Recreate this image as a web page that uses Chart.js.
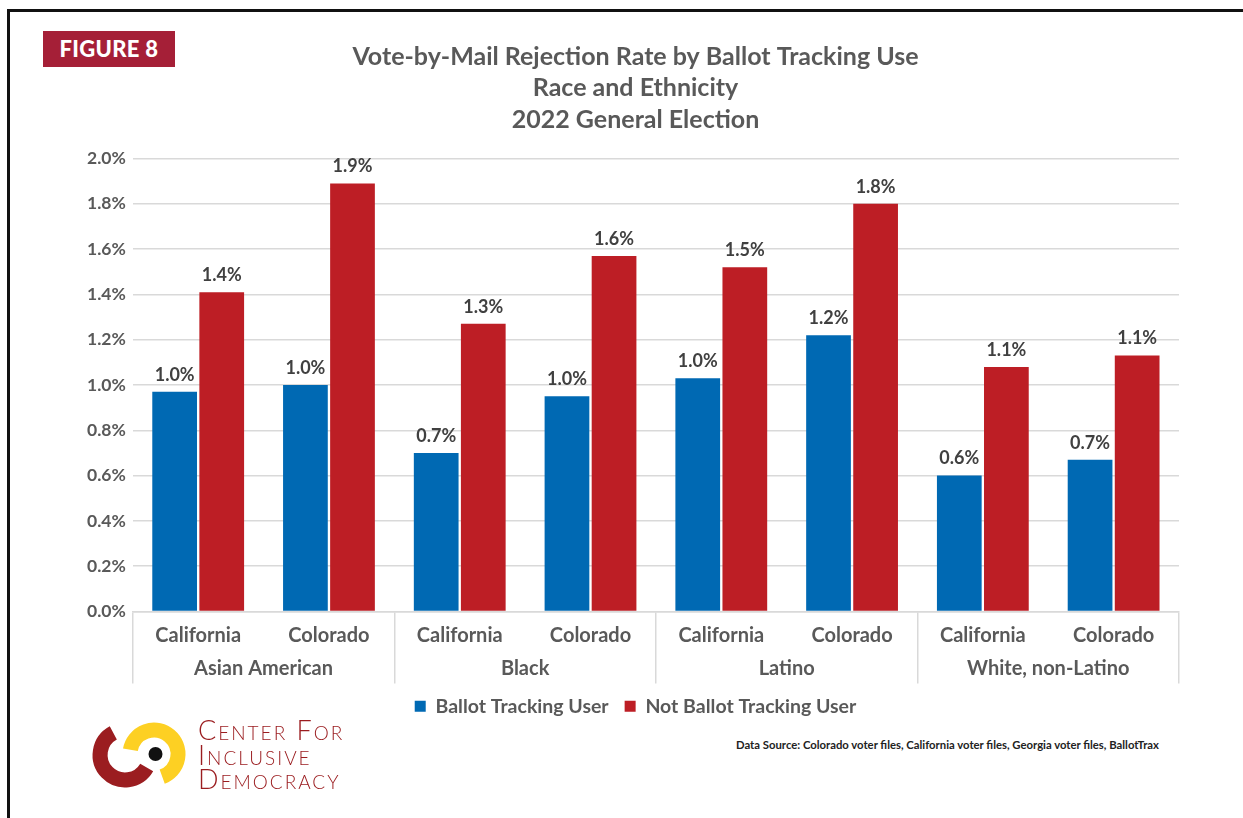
<!DOCTYPE html>
<html>
<head>
<meta charset="utf-8">
<title>Vote-by-Mail Rejection Rate by Ballot Tracking Use</title>
<script src="https://cdn.jsdelivr.net/npm/chart.js@4.4.0/dist/chart.umd.min.js"></script>
<style>
  html, body { margin: 0; padding: 0; background: #fff; }
  body { width: 1243px; height: 818px; position: relative; overflow: hidden; font-family: Lato, sans-serif; }
  .frame { position: absolute; left: 7px; top: 9px; width: 1300px; height: 900px; border-top: 3px solid #111; border-left: 3px solid #111; }
  .badge { position: absolute; left: 43px; top: 31px; width: 132px; height: 36px; background: #A51F37; color: #fff;
           font: 900 22px Lato, sans-serif; line-height: 36px; text-align: center; letter-spacing: 0.3px; }
  #chartBox { position: absolute; left: 27px; top: 30px; width: 1216px; height: 696px; }
  .logo { position: absolute; left: 80px; top: 715px; }
  .logo-text { position: absolute; left: 198px; top: 718px; color: #9B1D20; font: 300 27px Lato, sans-serif;
               font-variant: small-caps; line-height: 24.5px; letter-spacing: 2px; }
  .source { position: absolute; left: 736px; top: 738px; font: bold 11.3px Lato, sans-serif; color: #222; }
</style>
</head>
<body>
<div class="frame"></div>
<div class="badge">FIGURE 8</div>
<div id="chartBox"><canvas id="rejectionChart"></canvas></div>

<svg class="logo" width="120" height="90" viewBox="80 715 120 90">
  <!-- red hook, open to the upper right -->
  <path d="M 113.3 732.9 A 25 25 0 1 0 146.7 767.5" fill="none" stroke="#9B1D20" stroke-width="15"/>
  <!-- yellow hook, open to the lower left -->
  <path d="M 162.2 776.6 A 24 24 0 1 0 130.4 749.8" fill="none" stroke="#FDD023" stroke-width="15"/>
  <circle cx="155.5" cy="754" r="7" fill="#111"/>
</svg>
<div class="logo-text">Center For<br>Inclusive<br>Democracy</div>
<div class="source">Data Source: Colorado voter files, California voter files, Georgia voter files, BallotTrax</div>

<script>
const states = ['California', 'Colorado', 'California', 'Colorado', 'California', 'Colorado', 'California', 'Colorado'];
const groups = ['Asian American', 'Black', 'Latino', 'White, non-Latino'];
const trackingUser = [0.97, 1.00, 0.70, 0.95, 1.03, 1.22, 0.60, 0.67];
const notTrackingUser = [1.41, 1.89, 1.27, 1.57, 1.52, 1.80, 1.08, 1.13];
const yMax = 2.0;
const yStep = 0.2;

const BLUE = '#0069B3';
const RED = '#BD1E25';
const GRID = '#D9D9D9';
const FONT = 'Lato, sans-serif';

const fmt = v => (Math.round(v * 10) / 10).toFixed(1) + '%';

// value labels above each bar
const barValues = {
    id: 'barValues',
    afterDatasetsDraw(chart) {
        const ctx = chart.ctx;
        ctx.save();
        ctx.font = 'bold 18px ' + FONT;
        ctx.fillStyle = '#404040';
        ctx.textAlign = 'center';
        ctx.textBaseline = 'bottom';
        chart.data.datasets.forEach((ds, i) => {
            chart.getDatasetMeta(i).data.forEach((bar, j) => {
                ctx.fillText(fmt(ds.data[j]), bar.x, bar.y - 8);
            });
        });
        ctx.restore();
    }
};

// separators only between the race groups (every second state)
const groupLine = ctx => (ctx.index === undefined || ctx.index % 2 === 0) ? GRID : 'rgba(0,0,0,0)';

new Chart(document.getElementById('rejectionChart'), {
    type: 'bar',
    data: {
        labels: states,
        datasets: [{
            label: 'Ballot Tracking User',
            data: trackingUser,
            backgroundColor: BLUE
        }, {
            label: 'Not Ballot Tracking User',
            data: notTrackingUser,
            backgroundColor: RED
        }]
    },
    options: {
        responsive: true,
        maintainAspectRatio: false,
        animation: false,
        categoryPercentage: 0.72,
        barPercentage: 0.95,
        layout: { padding: { left: 53, right: 52, top: 0, bottom: 0 } },
        plugins: {
            title: {
                display: true,
                text: ['Vote-by-Mail Rejection Rate by Ballot Tracking Use', 'Race and Ethnicity', '2022 General Election'],
                color: '#595959',
                font: { family: FONT, size: 25, weight: 'bold', lineHeight: 1.26 },
                padding: { top: 11, bottom: 23 }
            },
            legend: {
                position: 'bottom',
                labels: {
                    boxWidth: 11,
                    boxHeight: 11,
                    padding: 16,
                    color: '#595959',
                    font: { family: FONT, size: 19.5, weight: 'bold' }
                }
            },
            tooltip: { enabled: false }
        },
        scales: {
            x: {
                ticks: {
                    color: '#595959',
                    font: { family: FONT, size: 20, weight: 'bold' },
                    maxRotation: 0,
                    autoSkip: false,
                    padding: -60
                },
                grid: {
                    drawOnChartArea: false,
                    tickLength: 72,
                    lineWidth: 1.5,
                    color: groupLine,
                    tickColor: groupLine
                },
                border: { color: GRID, width: 1.5 },
                // state row keeps its own height; the group lines run on through the race row
                afterFit: scale => { scale.height = 38; }
            },
            x2: {
                type: 'category',
                position: 'bottom',
                labels: groups,
                offset: true,
                ticks: {
                    color: '#595959',
                    font: { family: FONT, size: 20, weight: 'bold' },
                    maxRotation: 0,
                    autoSkip: false,
                    padding: 7
                },
                grid: { display: false, drawTicks: false },
                border: { display: false },
                afterFit: scale => { scale.height = 31; }
            },
            y: {
                min: 0,
                max: yMax,
                ticks: {
                    stepSize: yStep,
                    color: '#595959',
                    font: { family: FONT, size: 17.5, weight: 'bold' },
                    padding: 7,
                    callback: v => v.toFixed(1) + '%'
                },
                grid: { color: GRID, lineWidth: 1.5, drawTicks: false },
                border: { display: false }
            },
            // empty strip on the right so title and legend centre on the page
            yRight: {
                position: 'right',
                ticks: { display: false },
                grid: { display: false },
                border: { display: false },
                afterFit: scale => { scale.width = 12; }
            }
        }
    },
    plugins: [barValues]
});
</script>
</body>
</html>
